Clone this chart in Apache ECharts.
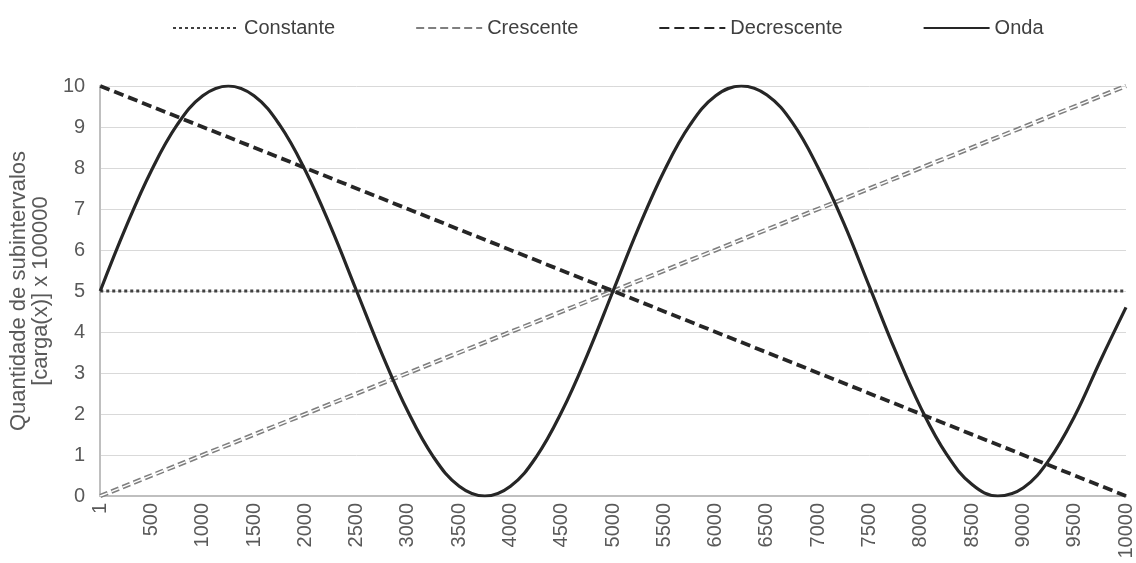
<!DOCTYPE html>
<html>
<head>
<meta charset="utf-8">
<script src="https://cdn.jsdelivr.net/npm/echarts@6/dist/echarts.min.js"></script>
<style>
  html, body { margin: 0; padding: 0; background: #fff; }
  #chart { width: 1136px; height: 563px; }
</style>
</head>
<body>
<div id="chart"></div>
<script>
// pontos do eixo x (passo de 250)
const xPoints = [1, 250, 500, 750, 1000, 1250, 1500, 1750, 2000, 2250, 2500, 2750, 3000, 3250, 3500, 3750,
  4000, 4250, 4500, 4750, 5000, 5250, 5500, 5750, 6000, 6250, 6500, 6750, 7000, 7250, 7500, 7750,
  8000, 8250, 8500, 8750, 9000, 9250, 9500, 9750, 10000]
// Onda
const ondaValues = [5.0, 6.55, 7.94, 9.05, 9.76, 10, 9.76, 9.05, 7.94, 6.55, 5.0, 3.45, 2.06, 0.95, 0.24, 0,
  0.24, 0.95, 2.06, 3.45, 5.0, 6.55, 7.94, 9.05, 9.76, 10, 9.78, 9.1, 8.0, 6.65, 5.1, 3.55,
  2.15, 1.02, 0.28, 0.0, 0.2, 0.88, 1.95, 3.3, 4.6]
// extremos das retas
const lineX = [1, 10000]
const constanteValues = [5, 5]
const crescenteValues = [0, 10]
const decrescenteValues = [10, 0]
const seriesNames = ['Constante', 'Crescente', 'Decrescente', 'Onda']

const pair = (xs, ys) => xs.map((x, i) => [x, ys[i]])
const font = 'Liberation Sans, Arial, sans-serif'

const chart = echarts.init(document.getElementById('chart'))
chart.setOption({
  animation: false,
  legend: {
    data: seriesNames,
    top: 13,
    left: 167,
    itemWidth: 66,
    itemHeight: 12,
    itemGap: 80,
    itemStyle: { opacity: 0 },
    textStyle: { color: '#404040', fontSize: 20, fontFamily: font }
  },
  grid: { left: 98, right: 6, top: 86, bottom: 67 },
  xAxis: {
    type: 'value',
    min: 0,
    max: 10000,
    interval: 500,
    axisLine: { lineStyle: { color: '#bfbfbf', width: 2 } },
    axisTick: { show: false },
    splitLine: { show: false },
    axisLabel: {
      rotate: 90,
      margin: 7,
      color: '#595959',
      fontSize: 20,
      fontFamily: font,
      formatter: v => (v === 0 ? '1' : String(v))
    }
  },
  yAxis: {
    type: 'value',
    min: 0,
    max: 10,
    interval: 1,
    name: 'Quantidade de subintervalos\n[carga(x)] x 100000',
    nameLocation: 'middle',
    nameGap: 46,
    nameTextStyle: { color: '#595959', fontSize: 22, fontFamily: font, lineHeight: 22 },
    axisLine: { show: true, lineStyle: { color: '#bfbfbf', width: 2 } },
    axisTick: { show: false },
    splitLine: { lineStyle: { color: '#d9d9d9', width: 1 } },
    axisLabel: { color: '#595959', fontSize: 20, fontFamily: font, margin: 15 }
  },
  series: [
    {
      name: 'Constante',
      type: 'line',
      symbol: 'none',
      data: pair(lineX, constanteValues),
      lineStyle: { color: '#404040', width: 3, type: [3, 3] },
      itemStyle: { color: '#404040' }
    },
    {
      name: 'Crescente',
      type: 'line',
      symbol: 'none',
      data: pair(lineX, crescenteValues),
      lineStyle: { color: '#7f7f7f', width: 4.5, type: [8, 4] },
      itemStyle: { color: '#7f7f7f' }
    },
    {
      // traço branco interno para a linha dupla
      name: 'Crescente_interno',
      type: 'line',
      symbol: 'none',
      silent: true,
      data: pair(lineX, crescenteValues),
      lineStyle: { color: '#ffffff', width: 1.4, type: [8, 4] }
    },
    {
      name: 'Decrescente',
      type: 'line',
      symbol: 'none',
      data: pair(lineX, decrescenteValues),
      lineStyle: { color: '#262626', width: 3.8, type: [10, 5] },
      itemStyle: { color: '#262626' }
    },
    {
      name: 'Onda',
      type: 'line',
      symbol: 'none',
      smooth: 0.4,
      data: pair(xPoints, ondaValues),
      lineStyle: { color: '#262626', width: 3.2 },
      itemStyle: { color: '#262626' }
    }
  ]
})
</script>
</body>
</html>
